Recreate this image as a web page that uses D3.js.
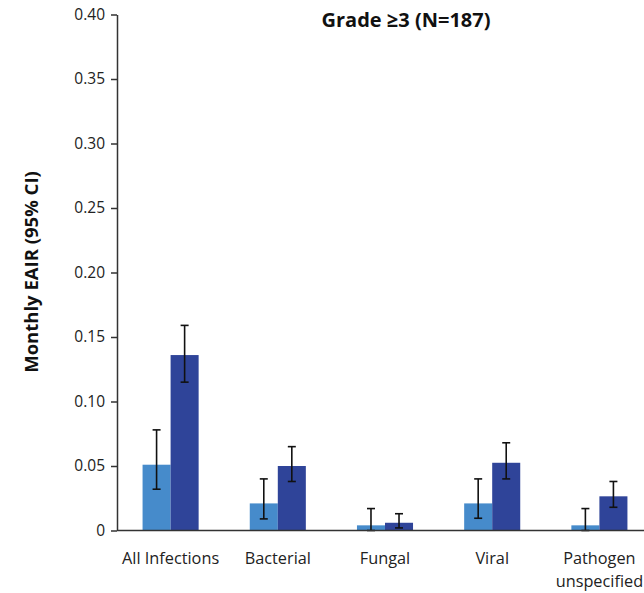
<!DOCTYPE html>
<html><head><meta charset="utf-8">
<script src="https://cdn.jsdelivr.net/npm/d3@7"></script>
<style>body{margin:0;background:#fff}svg{display:block}text{font-family:"Open Sans","Noto Sans",sans-serif}</style>
</head><body><svg id="c" width="644" height="593"></svg>
<script>
const categories = ["All Infections","Bacterial","Fungal","Viral","Pathogen unspecified"];
const seriesNames = ["Group A","Group B"];
const valuesA = [0.051, 0.021, 0.004, 0.021, 0.004];
const lowerA  = [0.032, 0.009, 0.000, 0.0095, 0.000];
const upperA  = [0.078, 0.040, 0.017, 0.040, 0.017];
const valuesB = [0.136, 0.050, 0.006, 0.0525, 0.0265];
const lowerB  = [0.115, 0.038, 0.002, 0.040, 0.018];
const upperB  = [0.159, 0.065, 0.013, 0.068, 0.038];
const yTicks = [0,0.05,0.10,0.15,0.20,0.25,0.30,0.35,0.40];
const title = "Grade ≥3 (N=187)";
const yTitle = "Monthly EAIR (95% CI)";
const colors = ["#468bcb","#2f4499"];

const svg = d3.select("#c");
const x0 = 117, yTop = 14.5, yBot = 530.5;
const x = d3.scaleBand().domain(categories).range([x0, 653]).paddingInner(0.477).paddingOuter(0.2385);
const xs = d3.scaleBand().domain(seriesNames).range([0, x.bandwidth()]);
const y = d3.scaleLinear().domain([0,0.4]).range([yBot, yTop]);

const rows = categories.map((c,i)=>({c, vals:[
  {s:seriesNames[0], v:valuesA[i], lo:lowerA[i], hi:upperA[i]},
  {s:seriesNames[1], v:valuesB[i], lo:lowerB[i], hi:upperB[i]}]}));

const g = svg.selectAll("g.grp").data(rows).join("g").attr("transform",d=>`translate(${x(d.c)},0)`);
g.selectAll("rect").data(d=>d.vals).join("rect")
  .attr("x",d=>xs(d.s)).attr("width",xs.bandwidth())
  .attr("y",d=>y(d.v)).attr("height",d=>yBot-y(d.v))
  .attr("fill",(d,i)=>colors[i]);
const eb = g.selectAll("g.eb").data(d=>d.vals).join("g").attr("stroke","#111").attr("stroke-width",1.6);
eb.append("line").attr("x1",d=>xs(d.s)+xs.bandwidth()/2).attr("x2",d=>xs(d.s)+xs.bandwidth()/2).attr("y1",d=>y(d.lo)).attr("y2",d=>y(d.hi));
eb.append("line").attr("x1",d=>xs(d.s)+xs.bandwidth()/2-4).attr("x2",d=>xs(d.s)+xs.bandwidth()/2+4).attr("y1",d=>y(d.lo)).attr("y2",d=>y(d.lo));
eb.append("line").attr("x1",d=>xs(d.s)+xs.bandwidth()/2-4).attr("x2",d=>xs(d.s)+xs.bandwidth()/2+4).attr("y1",d=>y(d.hi)).attr("y2",d=>y(d.hi));

// y axis
const ya = svg.append("g").attr("transform",`translate(${x0},0)`)
  .call(d3.axisLeft(y).tickValues(yTicks).tickSize(6).tickSizeOuter(0).tickPadding(6)
    .tickFormat(d=>d===0?"0":d3.format(".2f")(d)));
ya.select(".domain").attr("stroke","#333").attr("stroke-width",1.5);
ya.selectAll(".tick line").attr("stroke","#333").attr("stroke-width",1.5);
ya.selectAll("text").attr("font-size",15.5).attr("fill","#222").style("font-family",'"Open Sans","Noto Sans",sans-serif');

// x baseline
svg.append("line").attr("x1",x0).attr("x2",644).attr("y1",yBot).attr("y2",yBot).attr("stroke","#333").attr("stroke-width",1.5);

// x labels
svg.selectAll("text.xl").data(categories).join("text").attr("class","xl")
  .attr("x",d=>x(d)+x.bandwidth()/2).attr("y",564).attr("text-anchor","middle")
  .attr("font-size",16.3).attr("fill","#222")
  .each(function(d){
    const words = d==="Pathogen unspecified" ? ["Pathogen","unspecified"] : [d];
    d3.select(this).selectAll("tspan").data(words).join("tspan")
      .attr("x",x(d)+x.bandwidth()/2).attr("dy",(w,i)=>i===0?0:23).text(w=>w);
  });

svg.append("text").attr("x",406).attr("y",27).attr("text-anchor","middle")
  .attr("font-size",20).attr("font-weight","bold").attr("fill","#111").text(title);
svg.append("text").attr("transform","translate(38,272) rotate(-90)").attr("text-anchor","middle")
  .attr("font-size",18.5).attr("font-weight","bold").attr("fill","#111").text(yTitle);
</script></body></html>
